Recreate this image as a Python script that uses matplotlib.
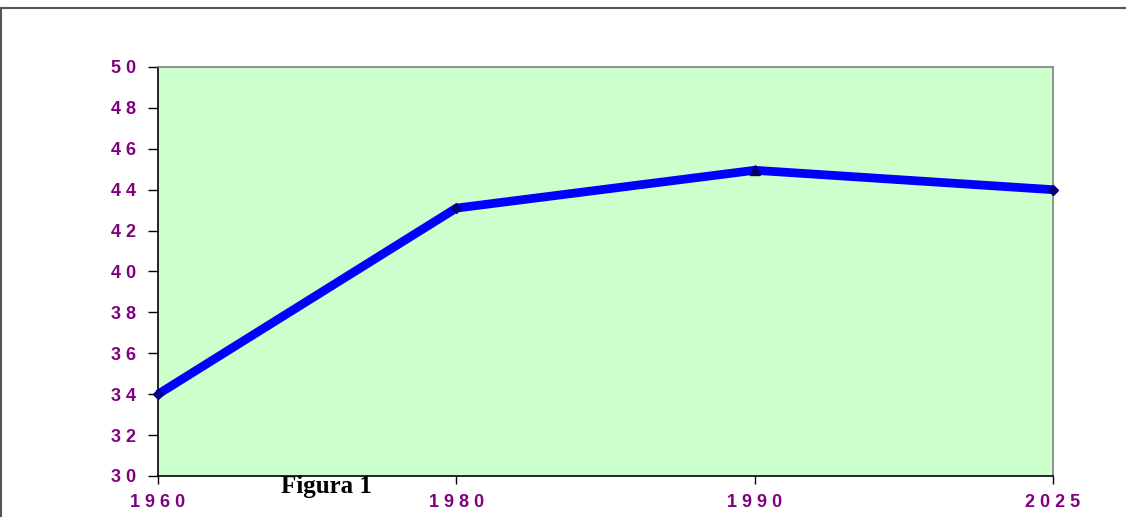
import matplotlib
matplotlib.use("Agg")
import matplotlib.pyplot as plt
from matplotlib.lines import Line2D

categories = ["1960", "1980", "1990", "2025"]
values = [34.0, 43.1, 44.95, 44.0]
yticks = [30, 32, 34, 36, 38, 40, 42, 44, 46, 48, 50]

purple = "#800080"
fig = plt.figure(figsize=(11.26, 5.17), dpi=100)
fig.patch.set_facecolor("white")

# outer frame (top and left visible)
fig.add_artist(Line2D([0.001, 1.0], [1 - 7.5/517]*2, color="#555555", lw=1.5, transform=fig.transFigure))
fig.add_artist(Line2D([1.2/1126]*2, [0, 1 - 7.5/517], color="#555555", lw=1.5, transform=fig.transFigure))

ax = fig.add_axes([158/1126, 1 - 476/517, (1053-158)/1126, (476-67)/517])
ax.set_facecolor("#CCFFCC")
x = list(range(len(categories)))
ax.plot(x, values, color="#0000FF", lw=6.3, solid_capstyle="butt", zorder=3, clip_on=False)
ax.plot(x[:2] + x[3:], values[:2] + values[3:], linestyle="none", marker="D", ms=5,
        color="#000080", zorder=4, clip_on=False)
ax.plot([x[2]], [values[2]], linestyle="none", marker="^", ms=7, color="#000060", zorder=4, clip_on=False)

ax.set_xlim(0, len(categories) - 1)
ax.set_ylim(30, 50)

ax.tick_params(axis="y", direction="out", length=7, width=1, color="black", pad=9,
               labelsize=13, labelcolor=purple)
ax.tick_params(axis="x", direction="out", length=6, width=1, color="black", pad=7,
               labelsize=13, labelcolor=purple)

font = dict(family="Liberation Sans", weight="bold", size=13, color=purple)
ax.set_yticks(yticks)
ax.set_yticklabels([" ".join(str(v)) for v in yticks], fontdict=font)
ax.set_xticks(x)
ax.set_xticklabels([" ".join(c) for c in categories], fontdict=font)

ax.spines["left"].set_color("black")
ax.spines["bottom"].set_color("black")
ax.spines["top"].set_color("#808080")
ax.spines["right"].set_color("#808080")
for s in ax.spines.values():
    s.set_linewidth(1.2)

fig.text(326/1126, 1 - 486/517, "Figura 1", fontfamily="Liberation Serif", fontweight="bold",
         fontsize=18, color="black", ha="center", va="center")

fig.savefig("out.png", dpi=100)
